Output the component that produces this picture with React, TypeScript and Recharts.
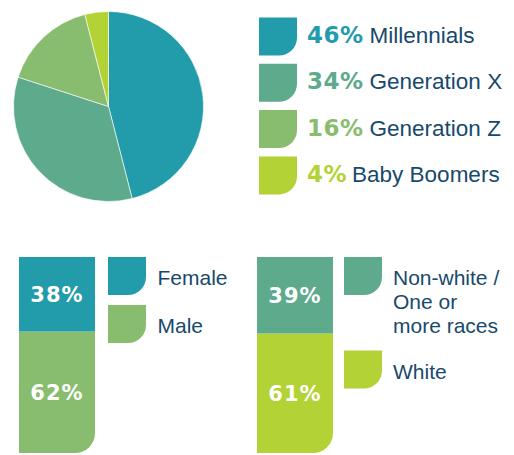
import React from "react";
import { Bar, BarChart, Cell, LabelList, Pie, PieChart, XAxis, YAxis } from "recharts";

// generations (pie + legend)
const generations = ["Millennials", "Generation X", "Generation Z", "Baby Boomers"];
const generationShares = [46, 34, 16, 4];
const generationColors = ["#229BAA", "#5DAA8C", "#88BC6E", "#B2D235"];

// gender (stacked bar)
const genderLabels = ["Female", "Male"];
const genderShares = [38, 62];
const genderColors = ["#229BAA", "#88BC6E"];

// race (stacked bar)
const raceLabels = ["Non-white /\nOne or\nmore races", "White"];
const raceShares = [39, 61];
const raceColors = ["#5DAA8C", "#B2D235"];

const NAVY = "#17496B";
const TEXT_FONT = "'Liberation Sans', Arial, sans-serif";
const PCT_FONT = "'DejaVu Sans', sans-serif";

const pieData = generations.map((name, i) => ({ name, value: generationShares[i] }));

// swatch with rounded bottom-right corner
function swatchPath(x: number, y: number, w: number, h: number, r: number) {
  return `M${x},${y}h${w}v${h - r}a${r},${r} 0 0 1 ${-r},${r}h${-(w - r)}z`;
}

function pctLabel(v: any) {
  return `${v}%`;
}

function StackBar({ labels, shares, colors }: { labels: string[]; shares: number[]; colors: string[] }) {
  // stacked bottom-up: last item (bottom) drawn first
  const row: Record<string, number | string> = { name: "all" };
  labels.forEach((l, i) => (row[l] = shares[i]));
  const order = labels.map((_, i) => i).reverse();
  return (
    <BarChart width={76} height={196} data={[row]} margin={{ top: 0, right: 0, bottom: 0, left: 0 }} barCategoryGap={0}>
      <XAxis dataKey="name" hide />
      <YAxis hide domain={[0, 100]} />
      {order.map((i, k) => (
        <Bar
          key={labels[i]}
          dataKey={labels[i]}
          stackId="s"
          fill={colors[i]}
          radius={k === 0 ? [0, 0, 20, 0] : 0}
          isAnimationActive={false}
        >
          <LabelList
            dataKey={labels[i]}
            position="center"
            formatter={pctLabel}
            fill="#fff"
            style={{ fontFamily: PCT_FONT, fontWeight: 700, fontSize: 21, letterSpacing: 1 }}
          />
        </Bar>
      ))}
    </BarChart>
  );
}

export default function App() {
  return (
    <div style={{ position: "absolute", left: 0, top: 0, width: 514, height: 455, overflow: "hidden", background: "#fff" }}>
      <div style={{ position: "absolute", left: 0, top: 0 }}>
        <PieChart width={220} height={215} margin={{ top: 0, right: 0, bottom: 0, left: 0 }}>
          <Pie
            data={pieData}
            dataKey="value"
            cx={108.5}
            cy={106.5}
            outerRadius={95}
            startAngle={90}
            endAngle={-270}
            stroke="#fff"
            strokeWidth={0.6}
            isAnimationActive={false}
          >
            {pieData.map((d, i) => (
              <Cell key={d.name} fill={generationColors[i]} />
            ))}
          </Pie>
        </PieChart>
      </div>

      <svg style={{ position: "absolute", left: 0, top: 0 }} width={514} height={455}>
        {generations.map((g, i) => {
          const y = 17.5 + i * 46.3;
          return (
            <g key={g}>
              <path d={swatchPath(259, y, 38, 38, 18)} fill={generationColors[i]} />
              <text x={307} y={y + 25.5} fill={generationColors[i]} style={{ fontFamily: PCT_FONT, fontWeight: 700, fontSize: 23, letterSpacing: 0.5 }}>
                {generationShares[i]}%
                <tspan fill={NAVY} dx={i === 3 ? 5 : 6} style={{ fontFamily: TEXT_FONT, fontWeight: 400, fontSize: 22.5, letterSpacing: 0 }}>
                  {g}
                </tspan>
              </text>
            </g>
          );
        })}

        {genderLabels.map((g, i) => {
          const y = 257 + i * 48;
          return (
            <g key={g}>
              <path d={swatchPath(108, y, 38, 38, 18)} fill={genderColors[i]} />
              <text x={157.5} y={y + 27.5} fill={NAVY} style={{ fontFamily: TEXT_FONT, fontSize: 21 }}>
                {g}
              </text>
            </g>
          );
        })}

        {raceLabels.map((g, i) => {
          const y = 257 + i * 93.5;
          return (
            <g key={g}>
              <path d={swatchPath(344, y, 38, 38, 18)} fill={raceColors[i]} />
              <text x={393} y={y + 28} fill={NAVY} style={{ fontFamily: TEXT_FONT, fontSize: 21 }}>
                {g.split("\n").map((line, k) => (
                  <tspan key={k} x={393} dy={k === 0 ? 0 : 24}>
                    {line}
                  </tspan>
                ))}
              </text>
            </g>
          );
        })}
      </svg>

      <div style={{ position: "absolute", left: 19, top: 257 }}>
        <StackBar labels={genderLabels} shares={genderShares} colors={genderColors} />
      </div>
      <div style={{ position: "absolute", left: 257, top: 257 }}>
        <StackBar labels={raceLabels} shares={raceShares} colors={raceColors} />
      </div>
    </div>
  );
}
